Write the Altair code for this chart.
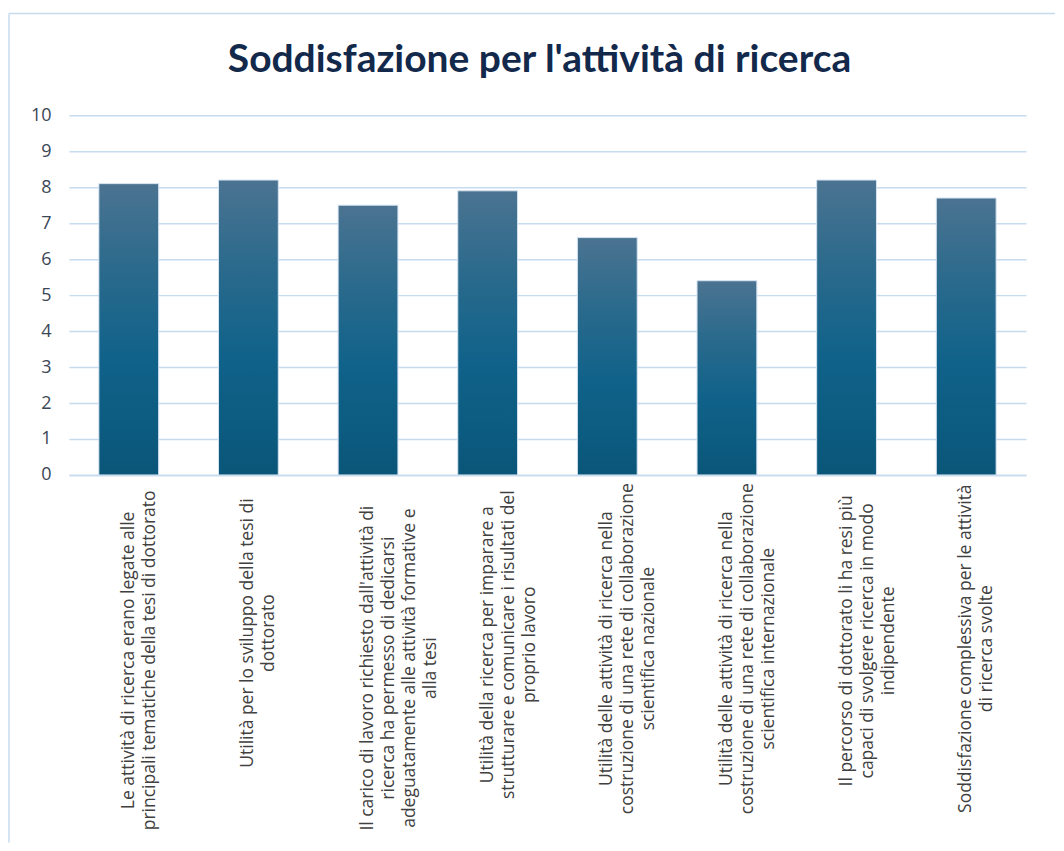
import altair as alt
import pandas as pd

title_text = "Soddisfazione per l'attività di ricerca"
categories = [
    "Le attività di ricerca erano legate alle\nprincipali tematiche della tesi di dottorato",
    "Utilità per lo sviluppo della tesi di\ndottorato",
    "Il carico di lavoro richiesto dall'attività di\nricerca ha permesso di dedicarsi\nadeguatamente alle attività formative e\nalla tesi",
    "Utilità della ricerca per imparare a\nstrutturare e comunicare i risultati del\nproprio lavoro",
    "Utilità delle attività di ricerca nella\ncostruzione di una rete di collaborazione\nscientifica nazionale",
    "Utilità delle attività di ricerca nella\ncostruzione di una rete di collaborazione\nscientifica internazionale",
    "Il percorso di dottorato li ha resi più\ncapaci di svolgere ricerca in modo\nindipendente",
    "Soddisfazione complessiva per le attività\ndi ricerca svolte",
]
values = [8.1, 8.2, 7.5, 7.9, 6.6, 5.4, 8.2, 7.7]
y_ticks = list(range(0, 11))

PLOT_W, PLOT_H = 958, 360

df = pd.DataFrame({"cat": categories, "val": values})
# longest wrapped line of each label (used to centre the lines of a label block)
df["nchars"] = [max(len(s) for s in c.split("\n")) for c in categories]

GRID = "#C6DBF0"
LABEL_FONT = "Open Sans"
TITLE_FONT = "Lato"

gradient = alt.Gradient(
    gradient="linear",
    stops=[
        alt.GradientStop(color="#4B7391", offset=0),
        alt.GradientStop(color="#2A6A8C", offset=0.3),
        alt.GradientStop(color="#10628A", offset=0.6),
        alt.GradientStop(color="#0A5679", offset=1),
    ],
    x1=0, x2=0, y1=0, y2=1,
)

x_enc = alt.X(
    "cat:N",
    sort=categories,
    title=None,
    scale=alt.Scale(paddingInner=0.5, paddingOuter=0.25),
    axis=alt.Axis(
        labels=False,
        ticks=False,
        domainColor=GRID,
        domainWidth=1.5,
        grid=False,
    ),
)

bars = alt.Chart(df).mark_bar(
    color=gradient, stroke="#D5E3F1", strokeWidth=1
).encode(
    x=x_enc,
    y=alt.Y(
        "val:Q",
        title=None,
        scale=alt.Scale(domain=[0, 10]),
        axis=alt.Axis(
            values=y_ticks,
            labelFont=LABEL_FONT,
            labelFontSize=18,
            labelColor="#3B4656",
            labelPadding=18,
            ticks=False,
            domain=False,
            gridColor=GRID,
            gridWidth=1.5,
        ),
    ),
)

labels = alt.Chart(df).transform_calculate(
    ly=f"{PLOT_H} + 14 + 3.9 * datum.nchars"
).mark_text(
    angle=270,
    align="center",
    baseline="middle",
    lineBreak="\n",
    lineHeight=21,
    font=LABEL_FONT,
    fontSize=17.5,
    color="#404040",
).encode(
    x=alt.X("cat:N", sort=categories),
    y=alt.Y("ly:Q", scale=None),
    text="cat:N",
)

one = pd.DataFrame({"a": [0]})
border_left = alt.Chart(one).mark_rule(color=GRID, strokeWidth=1.5).encode(
    x=alt.value(-60), y=alt.value(-102), y2=alt.value(728)
)
border_top = alt.Chart(one).mark_rule(color=GRID, strokeWidth=1.5).encode(
    x=alt.value(-60), x2=alt.value(987), y=alt.value(-102)
)
title = alt.Chart(one).mark_text(
    text=title_text,
    font=TITLE_FONT,
    fontSize=39,
    fontWeight="bold",
    color="#13294B",
    align="center",
    baseline="alphabetic",
).encode(x=alt.value(471), y=alt.value(-43))

chart = alt.layer(border_left, border_top, title, bars, labels).properties(
    width=PLOT_W,
    height=PLOT_H,
    padding={"left": 0, "top": 4, "right": 0, "bottom": 0},
).configure_view(stroke=None)

chart.save("out.html", embed_options={"renderer": "svg", "actions": False})
